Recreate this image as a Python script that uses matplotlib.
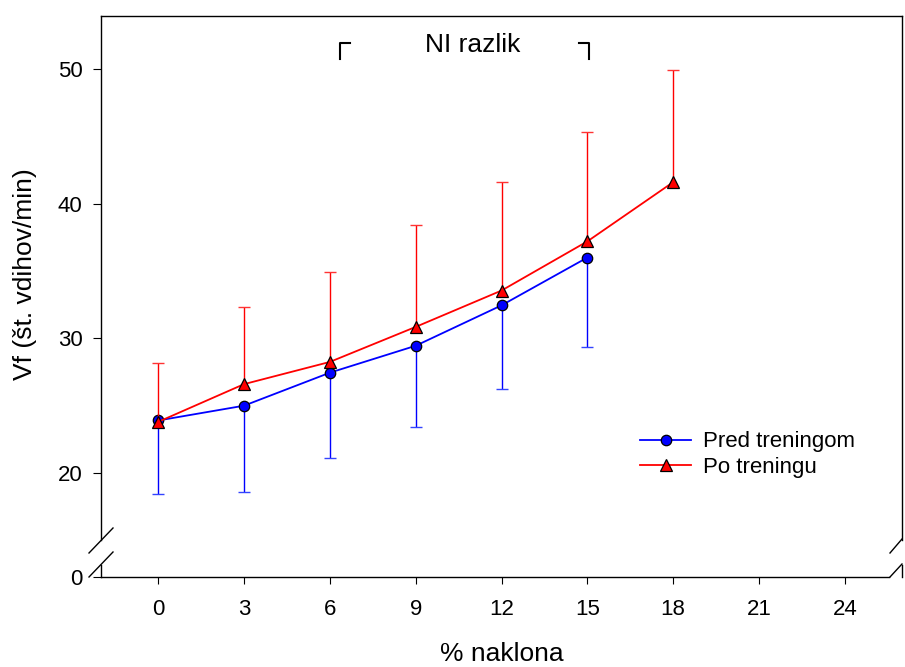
import numpy as np
import matplotlib
matplotlib.use("Agg")
import matplotlib.pyplot as plt
from matplotlib.lines import Line2D

plt.rcParams['font.family'] = ['Liberation Sans', 'DejaVu Sans']

# ---- data ----
x_pred = [0, 3, 6, 9, 12, 15]
pred_mean = [23.9, 25.0, 27.45, 29.45, 32.45, 36.0]
pred_sd = [5.45, 6.4, 6.3, 6.05, 6.2, 6.65]

x_po = [0, 3, 6, 9, 12, 15, 18]
po_mean = [23.8, 26.6, 28.25, 30.85, 33.55, 37.2, 41.6]
po_sd = [4.4, 5.7, 6.65, 7.6, 8.05, 8.1, 8.35]

x_ticks = [0, 3, 6, 9, 12, 15, 18, 21, 24]
y_ticks = [20, 30, 40, 50]
labels = ["Pred treningom", "Po treningu"]
annot_text = "NI razlik"
bracket_range = (6.37, 15.07)

W, H = 905, 667
fig = plt.figure(figsize=(W / 100, H / 100), dpi=100)

def fx(p):
    return p / W

def fy(p):
    return 1 - p / H

L, R, T, B_up, T_low, B = 101, 902, 16, 540, 565, 577
ax = fig.add_axes([fx(L), fy(B_up), (R - L) / W, (B_up - T) / H])
axl = fig.add_axes([fx(L), fy(B), (R - L) / W, (B - T_low) / H], sharex=ax)

ax.set_xlim(-2, 26)
ax.set_ylim(15.025, 53.94)
axl.set_ylim(0, 1)

# upper axes styling
ax.spines['bottom'].set_visible(False)
for s in ['left', 'right', 'top']:
    ax.spines[s].set_linewidth(1.0)
ax.tick_params(axis='x', which='both', bottom=False, labelbottom=False)
ax.set_yticks(y_ticks)
ax.tick_params(axis='y', direction='out', length=5.8, width=0.8, pad=7.5, labelsize=16)

# lower axes styling
axl.spines['top'].set_visible(False)
for s in ['left', 'right', 'bottom']:
    axl.spines[s].set_linewidth(1.0)
axl.spines['bottom'].set_bounds(-2, 25.55)
axl.set_yticks([0])
axl.set_yticklabels(['0'])
axl.set_xticks(x_ticks)
axl.tick_params(axis='y', direction='out', length=5.8, width=0.8, pad=7.5, labelsize=16)
axl.tick_params(axis='x', direction='out', length=5, width=0.8, pad=11, labelsize=16)
axl.patch.set_alpha(0)

pm = np.array(pred_mean); ps = np.array(pred_sd)
qm = np.array(po_mean); qs = np.array(po_sd)

# blue error bars (lower only)
ax.vlines(x_pred, pm - ps, pm, color='#0000ff', lw=1.0, zorder=2)
ax.plot(x_pred, pm - ps, ls='none', marker='_', ms=8, mew=1.0, color='#3344ff', zorder=2)
ln1, = ax.plot(x_pred, pm, color='#0000ff', lw=1.3, marker='o', ms=7.5,
               mfc='#0000ff', mec='black', mew=0.9, zorder=3)

# red error bars (upper only)
ax.vlines(x_po, qm, qm + qs, color='#ff0000', lw=1.0, zorder=4)
ax.plot(x_po, qm + qs, ls='none', marker='_', ms=8, mew=1.0, color='#ff3333', zorder=4)
ln2, = ax.plot(x_po, qm, color='#ff0000', lw=1.3, marker='^', ms=8.5,
               mfc='#ff0000', mec='black', mew=0.9, zorder=5)

# annotation
ax.text(11.0, 51.26, annot_text, ha='center', va='baseline', fontsize=19)
bl, br = bracket_range
ax.plot([bl, bl, bl + 0.35], [50.72, 51.96, 51.96], color='black', lw=1.5)
ax.plot([br - 0.35, br, br], [51.96, 51.96, 50.72], color='black', lw=1.5)

# legend
leg = ax.legend([ln1, ln2], labels, loc='center left',
                bbox_to_anchor=(fx(640), fy(454.5)), bbox_transform=fig.transFigure,
                frameon=False, fontsize=16, handlelength=2.3, handletextpad=0.55,
                labelspacing=0.2, borderpad=0, borderaxespad=0)

# axis break slashes
def slash(x1, y1, x2, y2):
    fig.add_artist(Line2D([fx(x1), fx(x2)], [fy(y1), fy(y2)],
                          transform=fig.transFigure, color='black', lw=1.0))

slash(89, 553, 113, 528)
slash(89, 577, 113, 552)
slash(890, 553, 902, 539)
slash(890, 577, 902, 564)

# axis labels
fig.text(fx(25), fy(274), "Vf (št. vdihov/min)", rotation=90, ha='center', va='center', fontsize=19)
fig.text(fx(501.5), fy(661), "% naklona", ha='center', va='baseline', fontsize=19)

fig.savefig("out.png", dpi=100)
